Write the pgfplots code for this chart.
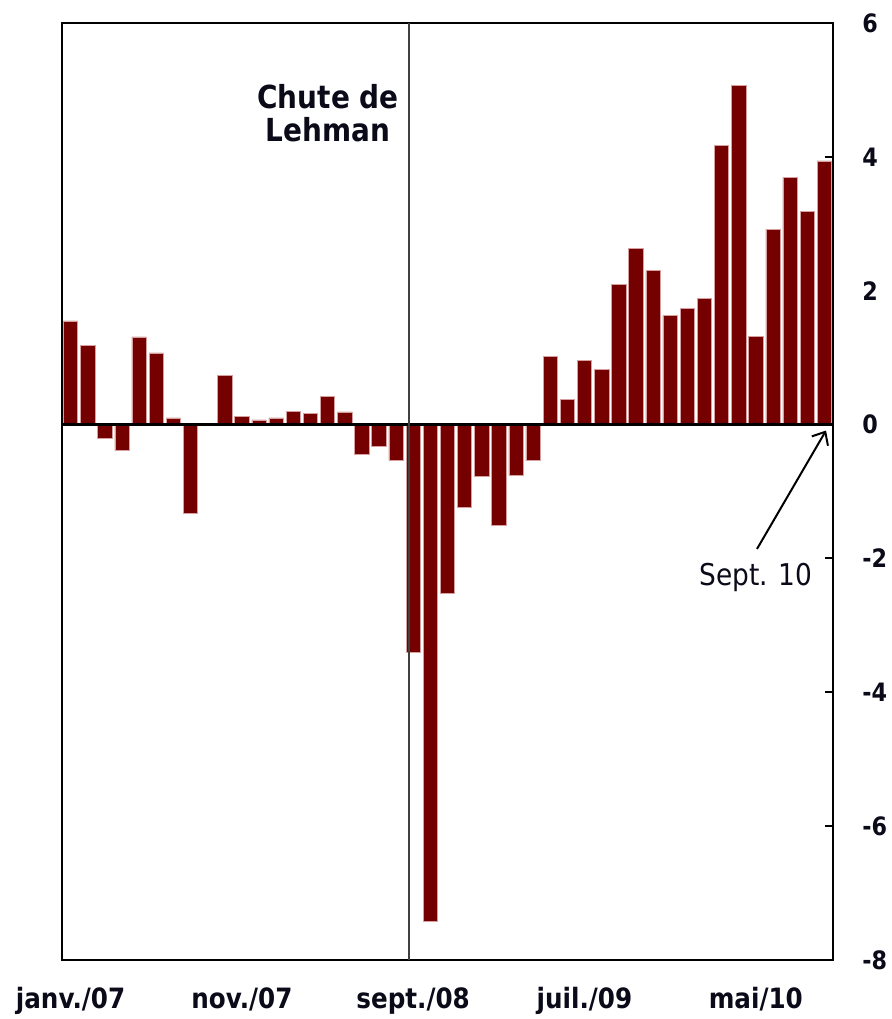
\documentclass[border=0pt]{standalone}
\usepackage{pgfplots}
\pgfplotsset{compat=1.18}
\usepackage{fontspec}
\setmainfont{DejaVu Sans}
\newfontfamily\tfont[FakeStretch=0.88]{DejaVu Sans}
\usetikzlibrary{arrows.meta}
\definecolor{barred}{RGB}{116,0,0}
\definecolor{baredge}{RGB}{215,160,160}
\definecolor{txt}{RGB}{10,10,25}
\begin{document}
\begin{tikzpicture}
\begin{axis}[
  scale only axis, width=578.25pt, height=702.75pt,
  xmin=0.5, xmax=45.5, ymin=-8, ymax=6,
  ytick={-8,-6,-4,-2,0,2,4,6},
  yticklabels={-8,-6,-4,-2,0,2,4,6},
  ytick pos=right, yticklabel pos=right, tick align=inside,
  major tick length=6pt,
  xtick={1,11,21,31,41},
  xticklabels={janv./07,nov./07,sept./08,juil./09,mai/10},
  x tick style={draw=none},
  y tick style={line width=1.5pt, black},
  axis line style={line width=1.8pt, black},
  yticklabel style={font=\tfont\fontsize{19}{22}\selectfont\bfseries, text=txt, anchor=west, xshift=18.5pt},
  xticklabel style={font=\tfont\fontsize{21}{25}\selectfont\bfseries, text=txt, yshift=-17pt},
  clip=false,
]
\coordinate (sw) at (rel axis cs:0,0);
\coordinate (ne) at (rel axis cs:1,1);
\addplot[ybar, bar width=0.835, bar shift=0pt, fill=barred, draw=baredge, line width=0.4pt]
coordinates {
(1,1.55) (2,1.18) (3,-0.20) (4,-0.39) (5,1.31) (6,1.07) (7,0.10) (8,-1.32) (9,0)
(10,0.73) (11,0.12) (12,0.07) (13,0.10) (14,0.20) (15,0.17) (16,0.42) (17,0.19)
(18,-0.45) (19,-0.32) (20,-0.54) (21,-3.40) (22,-7.42) (23,-2.52) (24,-1.23)
(25,-0.78) (26,-1.51) (27,-0.76) (28,-0.54) (29,1.02) (30,0.38) (31,0.96)
(32,0.82) (33,2.09) (34,2.63) (35,2.30) (36,1.63) (37,1.73) (38,1.88) (39,4.17)
(40,5.07) (41,1.32) (42,2.92) (43,3.69) (44,3.19) (45,3.94)
};
\draw[line width=2.2pt, black] (axis cs:0.5,0) -- (axis cs:45.5,0);
\draw[line width=1.1pt, black!75] (axis cs:20.76,-8) -- (axis cs:20.76,6);
\node[align=center, font=\tfont\fontsize{23.8}{24.75}\selectfont\bfseries, text=txt]
  at (axis cs:16.03,4.65) {Chute de\\Lehman};
\node[font=\tfont\fontsize{22.5}{26}\selectfont, text=txt] at (axis cs:41.01,-2.29) {Sept. 10};
\draw[line width=1.5pt, black, -{Straight Barb[length=8pt,width=14pt]}]
  (axis cs:41.07,-1.86) -- (axis cs:45.1,-0.09);
\end{axis}
\path ([xshift=-46.5pt,yshift=-44.25pt]sw) rectangle ([xshift=43.5pt,yshift=17.25pt]ne);
\end{tikzpicture}
\end{document}
